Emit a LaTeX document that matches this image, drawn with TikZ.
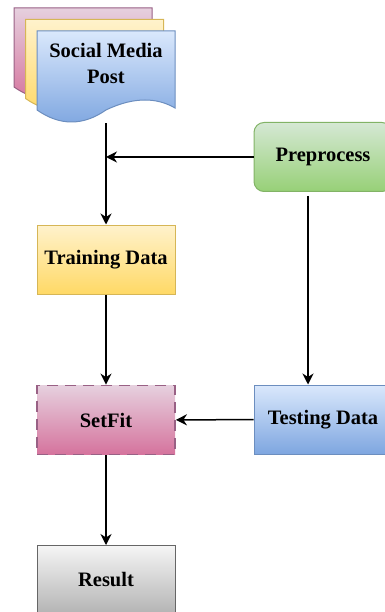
\documentclass[tikz,border=0pt]{standalone}
\usepackage{fontspec}
\setmainfont{Liberation Serif}
\usetikzlibrary{arrows.meta}

\definecolor{pinkA}{HTML}{E6D0DE}
\definecolor{pinkB}{HTML}{D5739D}
\definecolor{pinkL}{HTML}{996185}
\definecolor{yelA}{HTML}{FFF2CC}
\definecolor{yelB}{HTML}{FFD966}
\definecolor{yelL}{HTML}{D6B656}
\definecolor{bluA}{HTML}{DAE8FC}
\definecolor{bluB}{HTML}{7EA6E0}
\definecolor{bluL}{HTML}{6C8EBF}
\definecolor{grnA}{HTML}{D5E8D4}
\definecolor{grnB}{HTML}{97D077}
\definecolor{grnL}{HTML}{82B366}
\definecolor{gryA}{HTML}{F5F5F5}
\definecolor{gryB}{HTML}{B3B3B3}
\definecolor{gryL}{HTML}{666666}

\begin{document}
\begin{tikzpicture}[x=1pt,y=-1pt,
    lbl/.style={font=\bfseries\fontsize{20.5}{26}\selectfont,align=center},
    box/.style={lbl,draw,line width=1pt,minimum width=138pt,minimum height=69pt},
    arr/.style={-{Stealth[length=11pt,width=11pt,inset=3.5pt]},line width=1.5pt}]
    \useasboundingbox (0,0) rectangle (384,612);
    % stacked documents
    \foreach \d/\ca/\cb/\cl in {-23/pinkA/pinkB/pinkL,-11.5/yelA/yelB/yelL,0/bluA/bluB/bluL}
      \draw[line width=1pt,draw=\cl,top color=\ca,bottom color=\cb,shift={(\d,\d)}]
        (37,31) -- (175,31) -- (175,108) .. controls (158,98) and (135,96) .. (106,110)
        .. controls (83,126) and (60,126) .. (37,110) -- cycle;
    \node[inner sep=0,minimum width=138pt,minimum height=92pt] (post) at (106,77) {};
    \node[lbl] (postlbl) at (106,63) {Social Media\\Post};

    \node[box,rounded corners=10pt,draw=grnL,top color=grnA,bottom color=grnB] (prep) at (323,157) {Preprocess};
    \node[box,draw=yelL,top color=yelA,bottom color=yelB] (train) at (106,259.5) {Training Data};
    \node[box,draw=pinkL,top color=pinkA,bottom color=pinkB,line width=1.8pt,dash pattern=on 11pt off 7pt] (setfit) at (106,420) {SetFit};
    \node[box,draw=bluL,top color=bluA,bottom color=bluB] (test) at (323,419.5) {Testing Data};
    \node[box,draw=gryL,top color=gryA,bottom color=gryB] (result) at (106,580) {Result};

    \path[arr] (post) edge (train);
    \path[arr] (prep) edge (prep -| post);
    \path[arr] ([xshift=-15pt,yshift=-4pt]prep.south) edge ([xshift=-15pt]test.north);
    \path[arr] (train) edge (setfit);
    \path[arr] (test) edge (setfit);
    \path[arr] (setfit) edge (result);
\end{tikzpicture}
\end{document}
